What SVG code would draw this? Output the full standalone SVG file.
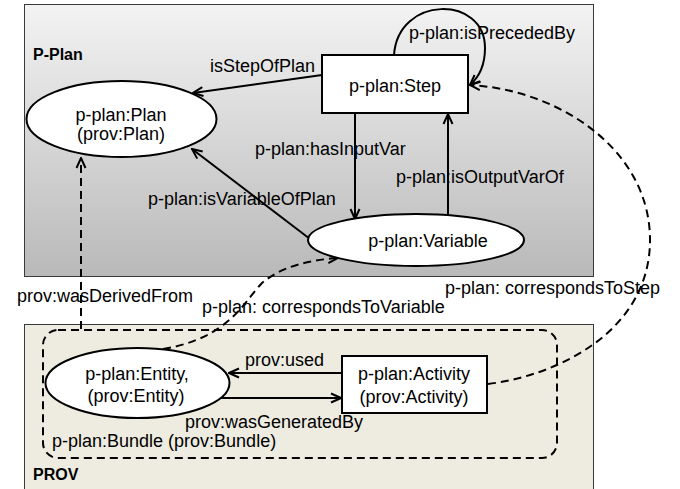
<svg xmlns="http://www.w3.org/2000/svg" width="680" height="489" viewBox="0 0 680 489">
<defs>
<linearGradient id="gp" x1="0" y1="0" x2="0" y2="1">
<stop offset="0" stop-color="#f3f3f3"/>
<stop offset="1" stop-color="#b9b9b9"/>
</linearGradient>
<marker id="ar" viewBox="0 0 12 12" refX="11" refY="6" markerWidth="12" markerHeight="12" markerUnits="userSpaceOnUse" orient="auto">
<path d="M1,1.5 L11,6 L1,10.5" fill="none" stroke="#000" stroke-width="2"/>
</marker>
</defs>
<style>
text{font-family:"Liberation Sans",Arial,sans-serif;font-size:18px;fill:#000}
.b{font-weight:bold;font-size:16px}
.m{text-anchor:middle}
.n{fill:#fff;stroke:#000;stroke-width:2}
.c{fill:none;stroke:#000;stroke-width:2}
.d{fill:none;stroke:#000;stroke-width:2;stroke-dasharray:8 5}
</style>
<rect id="pplan-box" x="24.5" y="4.5" width="569" height="272" fill="url(#gp)" stroke="#3a3a3a" stroke-width="1"/>
<rect id="prov-box" x="24.5" y="324.5" width="569" height="170" fill="#eeece1" stroke="#3a3a3a" stroke-width="1"/>
<text class="b" x="33" y="60">P-Plan</text>
<text class="b" x="33" y="480">PROV</text>
<g id="bundle">
<rect x="43" y="330" width="514" height="128" rx="15" ry="15" class="d"/>
<text x="52" y="447">p-plan:Bundle (prov:Bundle)</text>
</g>
<g id="connectors">
<path class="c" d="M322,75 L193,93" marker-end="url(#ar)"/>
<path class="c" d="M394,55 C398,-5 485,-5 485,48 C485,66 478,78 470,85" marker-end="url(#ar)"/>
<path class="c" d="M355,113 L355,219" marker-end="url(#ar)"/>
<path class="c" d="M448,214 L448,114" marker-end="url(#ar)"/>
<path class="c" d="M310,239 L192,149" marker-end="url(#ar)"/>
<path class="d" d="M81,329 L81,158" marker-end="url(#ar)"/>
<path class="d" d="M163,349 C230,338 245,300 262,283 C282,266 310,260 338,258" marker-end="url(#ar)"/>
<path class="d" d="M488,384 C560,375 650,330 650,240 C650,150 560,90 470,85" marker-end="url(#ar)"/>
<path class="c" d="M342,373 L229,373" marker-end="url(#ar)"/>
<path class="c" d="M221,398 L341,398" marker-end="url(#ar)"/>
<text x="210" y="72">isStepOfPlan</text>
<text x="409" y="39">p-plan:isPrecededBy</text>
<text x="255" y="155">p-plan:hasInputVar</text>
<text x="396" y="183">p-plan:isOutputVarOf</text>
<text x="148" y="205">p-plan:isVariableOfPlan</text>
<text x="17" y="302">prov:wasDerivedFrom</text>
<text x="202" y="313">p-plan: correspondsToVariable</text>
<text x="445" y="294">p-plan: correspondsToStep</text>
<text x="245" y="366">prov:used</text>
<text x="185" y="428">prov:wasGeneratedBy</text>
</g>
<g id="plan">
<ellipse class="n" cx="121.5" cy="119" rx="95" ry="38"/>
<text class="m" x="121" y="121">p-plan:Plan</text>
<text class="m" x="121" y="140">(prov:Plan)</text>
</g>
<g id="step">
<rect class="n" x="322" y="55" width="146" height="58"/>
<text class="m" x="395" y="92">p-plan:Step</text>
</g>
<g id="variable">
<ellipse class="n" cx="416" cy="240" rx="108" ry="26"/>
<text class="m" x="428" y="247">p-plan:Variable</text>
</g>
<g id="entity">
<ellipse class="n" cx="137.5" cy="383" rx="92" ry="35"/>
<text class="m" x="137" y="380">p-plan:Entity,</text>
<text class="m" x="136" y="402">(prov:Entity)</text>
</g>
<g id="activity">
<rect class="n" x="342" y="356" width="145" height="57"/>
<text class="m" x="414" y="380">p-plan:Activity</text>
<text class="m" x="414" y="403">(prov:Activity)</text>
</g>
</svg>
